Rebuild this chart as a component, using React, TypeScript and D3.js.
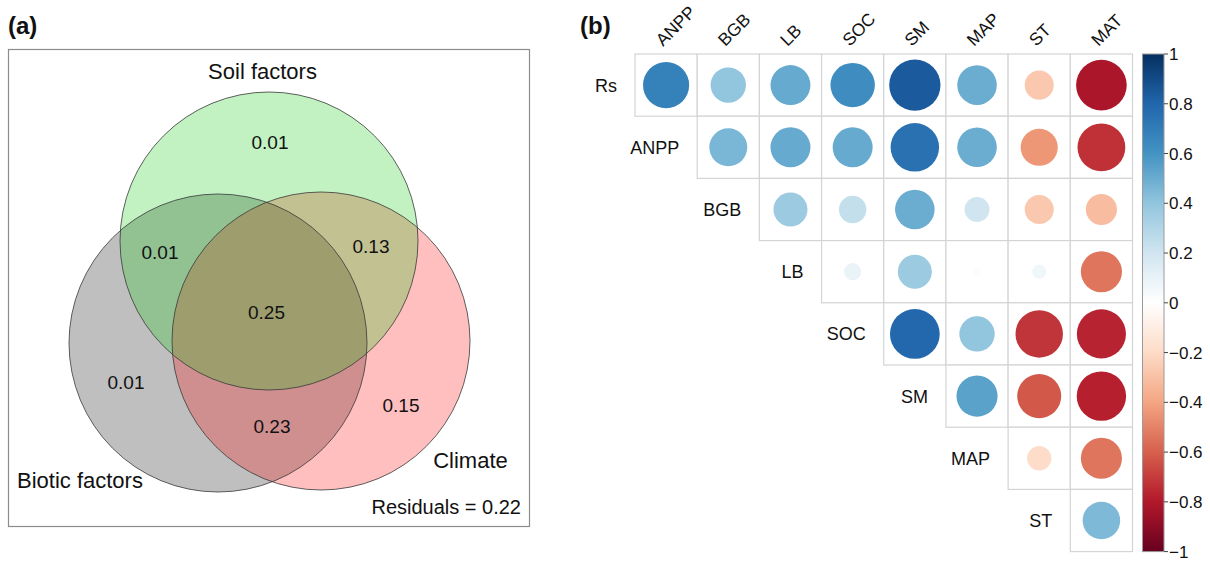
import * as d3 from 'd3'

const W = 1210, H = 564
const FONT = '"Liberation Sans", Arial, Helvetica, sans-serif'

// ---- (a) variance partitioning ----
const vennSets = ['Biotic factors', 'Soil factors', 'Climate']
const vennRegions = ['S', 'BS', 'SC', 'BSC', 'B', 'C', 'BC']
const vennValues = [0.01, 0.01, 0.13, 0.25, 0.01, 0.15, 0.23]
const residual = 0.22

// ---- (b) correlations (upper triangle) ----
const corrVars = ['Rs', 'ANPP', 'BGB', 'LB', 'SOC', 'SM', 'MAP', 'ST', 'MAT']
const rRs = [0.68, 0.40, 0.51, 0.63, 0.84, 0.50, -0.27, -0.82]
const rANPP = [0.46, 0.51, 0.51, 0.75, 0.50, -0.44, -0.73]
const rBGB = [0.37, 0.24, 0.50, 0.20, -0.27, -0.31]
const rLB = [0.094, 0.37, -0.02, 0.064, -0.54]
const rSOC = [0.79, 0.40, -0.72, -0.77]
const rSM = [0.54, -0.62, -0.78]
const rMAP = [-0.19, -0.54]
const rST = [0.45]
const corrRows = [rRs, rANPP, rBGB, rLB, rSOC, rSM, rMAP, rST]

const cbarTicks = [1, 0.8, 0.6, 0.4, 0.2, 0, -0.2, -0.4, -0.6, -0.8, -1]
const cbarLabels = ['1', '0.8', '0.6', '0.4', '0.2', '0', '\u22120.2', '\u22120.4', '\u22120.6', '\u22120.8', '\u22121']
const palette = ['#053061', '#2166AC', '#4393C3', '#92C5DE', '#D1E5F0', '#FFFFFF',
  '#FDDBC7', '#F4A582', '#D6604D', '#B2182B', '#67001F']

// layout for the venn panel
const VR = 149
const vennCenter: Record<string, [number, number]> = {
  'Biotic factors': [218, 343],
  'Soil factors': [269, 241],
  'Climate': [321, 341],
}
const vennFill: Record<string, string> = {
  'Biotic factors': '#000000',
  'Soil factors': '#0cc80c',
  'Climate': '#ff0000',
}
const drawOrder = ['Biotic factors', 'Climate', 'Soil factors']
const setLabelPos: Record<string, [number, number, string]> = {
  'Soil factors': [262.5, 79, 'middle'],
  'Biotic factors': [17, 488, 'start'],
  'Climate': [470.5, 468, 'middle'],
}
const regionPos: Record<string, [number, number]> = {
  S: [270, 148.5], BS: [160, 258.5], SC: [371, 252.5], BSC: [266.5, 318.5],
  B: [126, 388.5], C: [401, 411.5], BC: [272, 432.5],
}

function Venn() {
  const fmt = d3.format('.2f')
  return (
    <g fontFamily={FONT}>
      <rect x={8.5} y={49.5} width={521} height={477} fill="none" stroke="#8c8c8c" strokeWidth={1.2} />
      {drawOrder.map(s => (
        <circle key={s} cx={vennCenter[s][0]} cy={vennCenter[s][1]} r={VR}
          fill={vennFill[s]} fillOpacity={0.25} />
      ))}
      {drawOrder.map(s => (
        <circle key={s + 'o'} cx={vennCenter[s][0]} cy={vennCenter[s][1]} r={VR}
          fill="none" stroke="#3a3a3a" strokeOpacity={0.8} strokeWidth={1} />
      ))}
      {vennSets.map(s => (
        <text key={s} x={setLabelPos[s][0]} y={setLabelPos[s][1]} fontSize={22}
          textAnchor={setLabelPos[s][2] as any} fill="#111">{s}</text>
      ))}
      {vennRegions.map((r, i) => (
        <text key={r} x={regionPos[r][0]} y={regionPos[r][1]} fontSize={19}
          textAnchor="middle" fill="#111">{fmt(vennValues[i])}</text>
      ))}
      <text x={521} y={513.5} fontSize={20} textAnchor="end" fill="#111">
        {`Residuals = ${fmt(residual)}`}
      </text>
      <text x={8} y={34} fontSize={24} fontWeight="bold" fill="#111">(a)</text>
    </g>
  )
}

function CorrPlot() {
  const rows = corrVars.slice(0, 8)
  const cols = corrVars.slice(1)
  const x = d3.scaleBand().domain(cols).range([635, 1132.5])
  const y = d3.scaleBand().domain(rows).range([54, 551.6])
  const bw = x.bandwidth()
  const color = d3.scaleLinear<string>()
    .domain(cbarTicks)
    .range(palette)
    .interpolate(d3.interpolateRgb)
  const yC = d3.scaleLinear().domain([1, -1]).range([54, 551.6])

  const cells = corrRows.flatMap((vals, i) =>
    vals.map((v, j) => ({ row: rows[i], col: cols[i + j], v })))

  return (
    <g fontFamily={FONT}>
      <defs>
        <linearGradient id="cbar" x1="0" y1="0" x2="0" y2="1">
          {palette.map((c, i) => (
            <stop key={i} offset={`${(i / (palette.length - 1)) * 100}%`} stopColor={c} />
          ))}
        </linearGradient>
      </defs>
      {cells.map(d => (
        <rect key={d.row + d.col} x={x(d.col)} y={y(d.row)} width={bw} height={y.bandwidth()}
          fill="#fff" stroke="#d4d4d4" strokeWidth={1.2} />
      ))}
      {cells.map(d => (
        <circle key={'c' + d.row + d.col} cx={x(d.col)! + bw / 2} cy={y(d.row)! + y.bandwidth() / 2}
          r={0.9 * Math.sqrt(Math.abs(d.v)) * bw / 2} fill={color(d.v)} />
      ))}
      {rows.map((r, i) => (
        <text key={r} x={x(cols[i])! - 18} y={y(r)! + y.bandwidth() / 2 + 6.5}
          fontSize={18} textAnchor="end" fill="#111">{r}</text>
      ))}
      {cols.map(c => (
        <text key={c} transform={`translate(${x(c)! + bw / 2 - 3},47) rotate(-45)`}
          fontSize={17.5} fill="#111">{c}</text>
      ))}
      <rect x={1142.5} y={54} width={21.5} height={497.6} fill="url(#cbar)" stroke="#9a9a9a" strokeWidth={1} />
      {cbarTicks.map((t, i) => (
        <g key={t}>
          <line x1={1164} x2={1168} y1={yC(t)} y2={yC(t)} stroke="#444" strokeWidth={1} />
          <text x={1169} y={yC(t) + 6} fontSize={17} fill="#111">{cbarLabels[i]}</text>
        </g>
      ))}
      <text x={580} y={34} fontSize={24} fontWeight="bold" fill="#111">(b)</text>
    </g>
  )
}

export default function App() {
  return (
    <svg width={W} height={H} style={{ position: 'absolute', left: 0, top: 0, background: '#fff' }}>
      <rect width={W} height={H} fill="#fff" />
      <Venn />
      <CorrPlot />
    </svg>
  )
}
